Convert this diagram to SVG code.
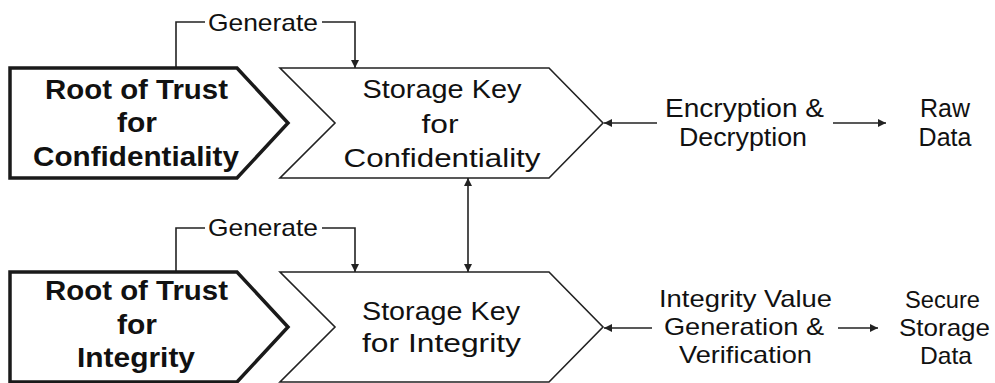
<svg xmlns="http://www.w3.org/2000/svg" width="995" height="383" viewBox="0 0 995 383">
  <defs>
    <marker id="head" viewBox="0 0 10 10" refX="10" refY="5" markerWidth="8" markerHeight="8" markerUnits="userSpaceOnUse" orient="auto-start-reverse">
      <path d="M0,0 L10,5 L0,10 Z" fill="#222"/>
    </marker>
    <style>
      .root { fill: #fff; stroke: #1a1a1a; stroke-width: 3.5; stroke-linejoin: miter; }
      .key { fill: #fff; stroke: #222; stroke-width: 1.6; }
      text { font-family: "Liberation Sans", Arial, sans-serif; fill: #111; text-anchor: middle; }
      .bold { font-weight: bold; font-size: 27.5px; }
      .key-t { font-size: 26.5px; }
      .side { font-size: 25px; }
      .side3 { font-size: 24px; }
      .lab { font-size: 24px; }
      .wire { fill: none; stroke: #222; stroke-width: 1.6; }
    </style>
  </defs>

  <rect width="995" height="383" fill="#fff"/>

  <!-- connectors -->
  <g id="connectors">
    <polyline class="wire" points="176,68 176,22 205,22"/>
    <polyline class="wire" points="322,22 355,22 355,68" marker-end="url(#head)"/>
    <polyline class="wire" points="176,272 176,228 205,228"/>
    <polyline class="wire" points="322,228 355,228 355,272" marker-end="url(#head)"/>
    <line class="wire" x1="468" y1="178" x2="468" y2="272" marker-start="url(#head)" marker-end="url(#head)"/>
    <line class="wire" x1="657" y1="123" x2="604" y2="123" marker-end="url(#head)"/>
    <line class="wire" x1="833" y1="123" x2="886" y2="123" marker-end="url(#head)"/>
    <line class="wire" x1="652" y1="328" x2="604" y2="328" marker-end="url(#head)"/>
    <line class="wire" x1="838" y1="328" x2="878" y2="328" marker-end="url(#head)"/>
    <text class="lab" x="263" y="31" textLength="110" lengthAdjust="spacingAndGlyphs">Generate</text>
    <text class="lab" x="263" y="236" textLength="110" lengthAdjust="spacingAndGlyphs">Generate</text>
  </g>

  <!-- confidentiality row -->
  <g id="root-conf">
    <polygon class="root" points="10,68 237,68 288,123 237,178 10,178"/>
    <text class="bold" x="136.5" y="99" textLength="183" lengthAdjust="spacingAndGlyphs">Root of Trust</text>
    <text class="bold" x="137" y="132" textLength="40" lengthAdjust="spacingAndGlyphs">for</text>
    <text class="bold" x="136" y="166" textLength="206" lengthAdjust="spacingAndGlyphs">Confidentiality</text>
  </g>
  <g id="key-conf">
    <polygon class="key" points="280,68 549,68 603,123 549,178 280,178 335,123"/>
    <text class="key-t" x="442" y="98" textLength="159" lengthAdjust="spacingAndGlyphs">Storage Key</text>
    <text class="key-t" x="440" y="133" textLength="37" lengthAdjust="spacingAndGlyphs">for</text>
    <text class="key-t" x="442" y="167" textLength="197" lengthAdjust="spacingAndGlyphs">Confidentiality</text>
  </g>
  <g id="encdec">
    <text class="side" x="744.5" y="117" textLength="159" lengthAdjust="spacingAndGlyphs">Encryption &amp;</text>
    <text class="side" x="743" y="146" textLength="128" lengthAdjust="spacingAndGlyphs">Decryption</text>
  </g>
  <g id="raw-data">
    <text class="side" x="945" y="117">Raw</text>
    <text class="side" x="945" y="146">Data</text>
  </g>

  <!-- integrity row -->
  <g id="root-int">
    <polygon class="root" points="10,272 237,272 288,327 237,382 10,382"/>
    <text class="bold" x="136.5" y="300" textLength="183" lengthAdjust="spacingAndGlyphs">Root of Trust</text>
    <text class="bold" x="137" y="334" textLength="40" lengthAdjust="spacingAndGlyphs">for</text>
    <text class="bold" x="136" y="367" textLength="118" lengthAdjust="spacingAndGlyphs">Integrity</text>
  </g>
  <g id="key-int">
    <polygon class="key" points="280,272 549,272 603,327 549,382 280,382 335,327"/>
    <text class="key-t" x="441" y="320" textLength="158" lengthAdjust="spacingAndGlyphs">Storage Key</text>
    <text class="key-t" x="441.5" y="352" textLength="159" lengthAdjust="spacingAndGlyphs">for Integrity</text>
  </g>
  <g id="intval">
    <text class="side3" x="745.5" y="307" textLength="173" lengthAdjust="spacingAndGlyphs">Integrity Value</text>
    <text class="side3" x="744" y="335" textLength="160" lengthAdjust="spacingAndGlyphs">Generation &amp;</text>
    <text class="side3" x="745.5" y="363" textLength="133" lengthAdjust="spacingAndGlyphs">Verification</text>
  </g>
  <g id="secure-data">
    <text class="side3" x="942.5" y="308" textLength="75" lengthAdjust="spacingAndGlyphs">Secure</text>
    <text class="side3" x="944.5" y="336" textLength="91" lengthAdjust="spacingAndGlyphs">Storage</text>
    <text class="side3" x="946" y="364" textLength="52" lengthAdjust="spacingAndGlyphs">Data</text>
  </g>
</svg>
